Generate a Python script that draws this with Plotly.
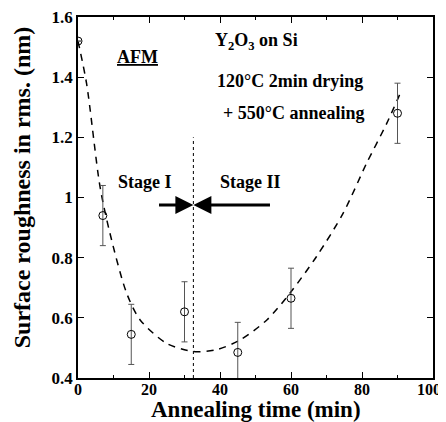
import plotly.graph_objects as go

# Data points
time_min = [0, 7, 15, 30, 45, 60, 90]
roughness = [1.52, 0.94, 0.545, 0.62, 0.485, 0.665, 1.28]
err = [0.0, 0.10, 0.10, 0.10, 0.10, 0.10, 0.10]

# Dashed fit curve
fit_x = [0, 2.4, 6.2, 9.0, 13.7, 17.5, 25, 32.5, 39, 45.6, 53.2, 59.7, 67.2, 74.7, 81.3, 87, 91.2]
fit_y = [1.52, 1.38, 1.036, 0.881, 0.682, 0.593, 0.515, 0.488, 0.494, 0.526, 0.593, 0.682, 0.804, 0.948, 1.114, 1.247, 1.358]

x_ticks = [0, 20, 40, 60, 80, 100]
x_tick_labels = ["0", "20", "40", "60", "80", "100"]
y_ticks = [0.4, 0.6, 0.8, 1.0, 1.2, 1.4, 1.6]
y_tick_labels = ["0.4", "0.6", "0.8", "1", "1.2", "1.4", "1.6"]

stage_boundary = 32.5

FONT = "Liberation Serif, Times New Roman, serif"

fig = go.Figure()

fig.add_trace(go.Scatter(
    x=fit_x, y=fit_y, mode="lines",
    line=dict(color="black", width=1.5, dash="7px,6px", shape="spline", smoothing=0.8),
    hoverinfo="skip", showlegend=False,
))

fig.add_trace(go.Scatter(
    x=time_min, y=roughness, mode="markers",
    marker=dict(symbol="circle-open", size=8, color="black", line=dict(width=1, color="black")),
    error_y=dict(type="data", array=err, visible=True, color="#555", thickness=1, width=3),
    showlegend=False,
))

# vertical dotted line
fig.add_shape(type="line", x0=stage_boundary, x1=stage_boundary, y0=0.4, y1=1.2,
              line=dict(color="black", width=1, dash="dot"))

# arrows
for start in (22.4, 54.5):
    fig.add_annotation(x=stage_boundary, y=0.975, ax=start, ay=0.975, xref="x", yref="y",
                       axref="x", ayref="y", showarrow=True, arrowhead=2, arrowsize=1.2,
                       arrowwidth=3, arrowcolor="black", text=" ",
                       font=dict(size=1))

texts = [
    (18.9, 1.053, "Stage I"),
    (48.5, 1.053, "Stage II"),
    (16.9, 1.466, "<u>AFM</u>"),
    (50.3, 1.519, "Y<sub>2</sub>O<sub>3</sub> on Si"),
    (59.7, 1.386, "120°C 2min drying"),
    (60.6, 1.281, "+ 550°C annealing"),
]
for x, y, t in texts:
    fig.add_annotation(x=x, y=y, text="<b>" + t + "</b>", showarrow=False,
                       font=dict(family=FONT, size=18, color="black"))

# axis titles as annotations for precise placement
fig.add_annotation(x=0.5, y=-0.087, xref="paper", yref="paper", xanchor="center", yanchor="middle",
                   text="<b>Annealing time (min)</b>", showarrow=False,
                   font=dict(family=FONT, size=23, color="black"))
fig.add_annotation(x=-0.158, y=0.528, xref="paper", yref="paper", xanchor="center", yanchor="middle",
                   text="<b>Surface roughness in rms. (nm)</b>", showarrow=False, textangle=-90,
                   font=dict(family=FONT, size=24, color="black"))

axis_common = dict(
    showline=True, linecolor="black", linewidth=1.5, mirror="ticks",
    ticks="inside", ticklen=6, tickwidth=1, tickcolor="black",
    showgrid=False, zeroline=False, automargin=False,
    ticklabeloverflow="allow",
)

# last x label nudged left (trailing spaces) so it stays inside the window edge
x_text = ["<b>" + t + "</b>" for t in x_tick_labels]
x_text[-1] = x_text[-1] + "&nbsp;&nbsp;"

# The page body has an 8px default margin, so the figure is sized to fit the window.
fig.update_layout(
    width=438, height=414,
    margin=dict(l=70, r=13, t=9, b=44, autoexpand=False),
    plot_bgcolor="white", paper_bgcolor="white",
    xaxis=dict(range=[0, 100], tickvals=x_ticks, ticktext=x_text,
               ticklabelstandoff=-4,
               tickfont=dict(family=FONT, size=16, color="black"),
               minor=dict(ticks="inside", ticklen=3, dtick=10, tickcolor="black"),
               **axis_common),
    yaxis=dict(range=[0.4, 1.6], tickvals=y_ticks,
               ticktext=["<b>" + t + "</b>" for t in y_tick_labels],
               tickfont=dict(family=FONT, size=17, color="black"),
               **axis_common),
    font=dict(family=FONT, color="black"),
)

fig.write_html("out.html")
